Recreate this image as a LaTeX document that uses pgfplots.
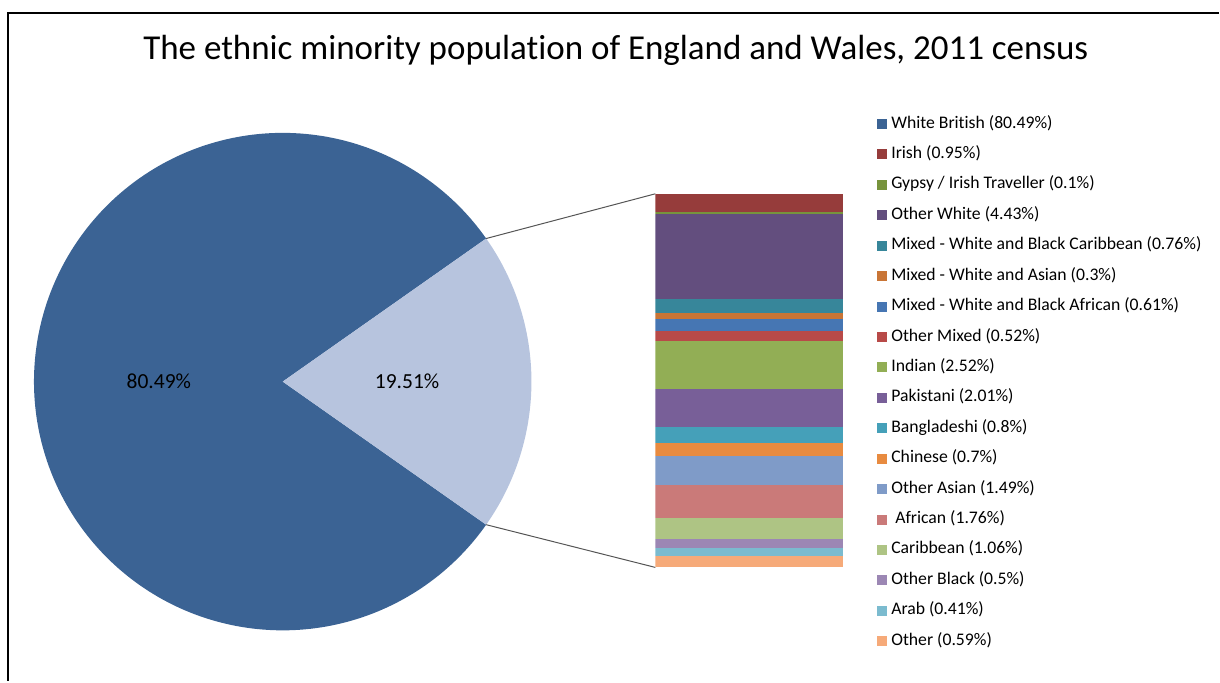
\documentclass[border=0pt]{standalone}
\usepackage{fontspec}
\setmainfont{Carlito}[Ligatures=NoCommon]
\usepackage{pgfplots}
\pgfplotsset{compat=1.18}

\definecolor{cWB}{HTML}{3B6394}
\definecolor{cMin}{HTML}{B7C4DE}
\definecolor{cIrish}{HTML}{963C3B}
\definecolor{cGypsy}{HTML}{77933C}
\definecolor{cOW}{HTML}{634E7E}
\definecolor{cMWBC}{HTML}{37869A}
\definecolor{cMWA}{HTML}{C97536}
\definecolor{cMWBA}{HTML}{4676B3}
\definecolor{cOM}{HTML}{B84A48}
\definecolor{cInd}{HTML}{92AE55}
\definecolor{cPak}{HTML}{785F98}
\definecolor{cBan}{HTML}{45A0B9}
\definecolor{cChi}{HTML}{E88B40}
\definecolor{cOA}{HTML}{7F9BC8}
\definecolor{cAfr}{HTML}{CA7A79}
\definecolor{cCar}{HTML}{AEC484}
\definecolor{cOB}{HTML}{9C87B4}
\definecolor{cArab}{HTML}{7BBBCF}
\definecolor{cOther}{HTML}{F6AA79}
\definecolor{connector}{HTML}{555555}

% shares of the pie (percent)
\def\whitebritish{80.49}
\def\minority{19.51}

\begin{document}
\begin{tikzpicture}
% whole canvas in pixel units (y measured upwards)
\begin{axis}[
    at={(0,0)}, anchor=south west,
    scale only axis, width=1220pt, height=682pt,
    xmin=0, xmax=1220, ymin=0, ymax=682,
    hide axis, clip=false,
    legend image code/.code={\fill[#1, draw=none] (0pt,-5.5pt) rectangle (10pt,4.5pt);},
    legend style={
        at={(axis cs:878,567)}, anchor=north west,
        draw=none, fill=none, inner sep=0pt,
        font=\fontsize{17.7}{20}\selectfont,
        nodes={inner sep=0pt, text height=13pt, text depth=4pt},
        cells={anchor=west},
        row sep=13.45pt, column sep=4pt,
    },
]
\path (axis cs:0,0) rectangle (axis cs:1220,682);

% pie: minority slice centred on 0 degrees
\pgfmathsetmacro{\half}{\minority*3.6/2}
\addplot[forget plot, fill=cWB, draw=none, domain=\half:360-\half, samples=240]
    ({283+249*cos(x)}, {300+249*sin(x)}) -- (axis cs:283,300) -- cycle;
\addplot[forget plot, fill=cMin, draw=none, domain=-\half:\half, samples=80]
    ({283+249*cos(x)}, {300+249*sin(x)}) -- (axis cs:283,300) -- cycle;

\pgfmathsetmacro{\ex}{283+249*cos(\half)}
\pgfmathsetmacro{\eyt}{300+249*sin(\half)}
\pgfmathsetmacro{\eyb}{300-249*sin(\half)}
\addplot[forget plot, color=connector, line width=1pt] coordinates {(\ex,\eyt) (656,488)};
\addplot[forget plot, color=connector, line width=1pt] coordinates {(\ex,\eyb) (656,114)};

\node[anchor=base, font=\fontsize{21.5}{24}\selectfont] at (axis cs:159,293) {\whitebritish\%};
\node[anchor=base, font=\fontsize{21.5}{24}\selectfont] at (axis cs:407.5,293) {\minority\%};

\node[anchor=base, font=\fontsize{35}{40}\selectfont] at (axis cs:616.5,622)
    {The ethnic minority population of England and Wales, 2011 census};

% chart frame (cropped on the right and bottom)
\draw[black, line width=2.5pt] (axis cs:1220,669) -- (axis cs:8,669) -- (axis cs:8,0);

\addlegendimage{fill=cWB}      \addlegendentry{White British (80.49\%)}
\addlegendimage{fill=cIrish}   \addlegendentry{Irish (0.95\%)}
\addlegendimage{fill=cGypsy}   \addlegendentry{Gypsy / Irish Traveller (0.1\%)}
\addlegendimage{fill=cOW}      \addlegendentry{Other White (4.43\%)}
\addlegendimage{fill=cMWBC}    \addlegendentry{Mixed - White and Black Caribbean (0.76\%)}
\addlegendimage{fill=cMWA}     \addlegendentry{Mixed - White and Asian (0.3\%)}
\addlegendimage{fill=cMWBA}    \addlegendentry{Mixed - White and Black African (0.61\%)}
\addlegendimage{fill=cOM}      \addlegendentry{Other Mixed (0.52\%)}
\addlegendimage{fill=cInd}     \addlegendentry{Indian (2.52\%)}
\addlegendimage{fill=cPak}     \addlegendentry{Pakistani (2.01\%)}
\addlegendimage{fill=cBan}     \addlegendentry{Bangladeshi (0.8\%)}
\addlegendimage{fill=cChi}     \addlegendentry{Chinese (0.7\%)}
\addlegendimage{fill=cOA}      \addlegendentry{Other Asian (1.49\%)}
\addlegendimage{fill=cAfr}     \addlegendentry{\ African (1.76\%)}
\addlegendimage{fill=cCar}     \addlegendentry{Caribbean (1.06\%)}
\addlegendimage{fill=cOB}      \addlegendentry{Other Black (0.5\%)}
\addlegendimage{fill=cArab}    \addlegendentry{Arab (0.41\%)}
\addlegendimage{fill=cOther}   \addlegendentry{Other (0.59\%)}
\end{axis}

% breakdown of the minority share, stacked top to bottom
\begin{axis}[
    at={(656pt,114pt)}, anchor=south west,
    scale only axis, width=188pt, height=374pt,
    xmin=-0.5, xmax=0.5, ymin=0, ymax=19.51, y dir=reverse,
    hide axis, ybar stacked, bar width=188pt,
    every axis plot/.append style={draw=none},
]
\addplot[fill=cIrish]  coordinates {(0,0.95)};
\addplot[fill=cGypsy]  coordinates {(0,0.1)};
\addplot[fill=cOW]     coordinates {(0,4.43)};
\addplot[fill=cMWBC]   coordinates {(0,0.76)};
\addplot[fill=cMWA]    coordinates {(0,0.3)};
\addplot[fill=cMWBA]   coordinates {(0,0.61)};
\addplot[fill=cOM]     coordinates {(0,0.52)};
\addplot[fill=cInd]    coordinates {(0,2.52)};
\addplot[fill=cPak]    coordinates {(0,2.01)};
\addplot[fill=cBan]    coordinates {(0,0.8)};
\addplot[fill=cChi]    coordinates {(0,0.7)};
\addplot[fill=cOA]     coordinates {(0,1.49)};
\addplot[fill=cAfr]    coordinates {(0,1.76)};
\addplot[fill=cCar]    coordinates {(0,1.06)};
\addplot[fill=cOB]     coordinates {(0,0.5)};
\addplot[fill=cArab]   coordinates {(0,0.41)};
\addplot[fill=cOther]  coordinates {(0,0.59)};
\end{axis}
\end{tikzpicture}
\end{document}
